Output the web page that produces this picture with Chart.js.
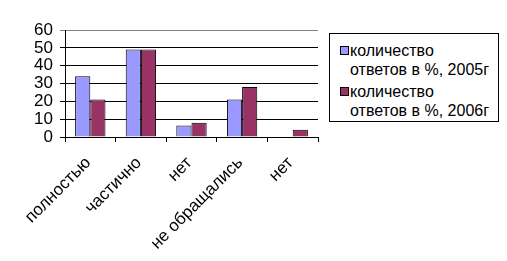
<!DOCTYPE html>
<html>
<head>
<meta charset="utf-8">
<script src="https://cdn.jsdelivr.net/npm/chart.js@4"></script>
<style>
  body { margin: 0; background: #fff; }
  #wrap { position: relative; width: 507px; height: 261px; }
  #legend {
    position: absolute; left: 329px; top: 33px; width: 170px; height: 89px;
    border: 1px solid #000; background: #fff;
    font: 16px "Liberation Sans", Arial, sans-serif; color: #000;
    box-sizing: border-box;
  }
  .item { position: absolute; left: 20px; line-height: 19px; white-space: nowrap; }
  .box { position: absolute; left: -10px; top: 5px; width: 7px; height: 7px; border: 1px solid #000; }
</style>
</head>
<body>
<div id="wrap">
  <canvas id="chart" width="507" height="261"></canvas>
  <div id="legend"></div>
</div>
<script>
const categories = ['полностью', 'частично', 'нет', 'не обращались', 'нет']
const values2005 = [34, 49, 6.5, 21, 0]
const values2006 = [21, 49, 8, 28, 4]
const seriesNames = ['количество\nответов в %, 2005г', 'количество\nответов в %, 2006г']
const colors = ['#9999ff', '#993366']

Chart.defaults.font.family = '"Liberation Sans", Arial, sans-serif'
Chart.defaults.color = '#000'

new Chart(document.getElementById('chart'), {
  type: 'bar',
  data: {
    labels: categories,
    datasets: [{
      label: seriesNames[0],
      data: values2005,
      backgroundColor: colors[0],
      borderColor: '#000',
      borderWidth: 1,
      categoryPercentage: 0.6,
      barPercentage: 1.0
    }, {
      label: seriesNames[1],
      data: values2006,
      backgroundColor: colors[1],
      borderColor: '#000',
      borderWidth: 1,
      categoryPercentage: 0.6,
      barPercentage: 1.0
    }]
  },
  options: {
    responsive: false,
    animation: false,
    layout: { padding: { top: 30, right: 189, left: 0, bottom: 0 } },
    plugins: { legend: { display: false }, tooltip: { enabled: false } },
    scales: {
      x: {
        afterFit: (s) => { s.height = 124 },
        border: { color: '#000' },
        grid: { offset: true, drawOnChartArea: false, tickLength: 5, color: '#000' },
        ticks: { minRotation: 45, maxRotation: 45, autoSkip: false, font: { size: 17 }, padding: 11, labelOffset: -2 }
      },
      y: {
        min: 0,
        max: 60,
        afterFit: (s) => { s.width = 65 },
        border: { color: '#000' },
        grid: {
          tickLength: 5,
          color: (ctx) => ctx.tick && ctx.tick.value === 60 ? '#808080' : '#000'
        },
        ticks: { stepSize: 10, autoSkip: false, font: { size: 17 }, padding: 7 }
      }
    }
  }
})

// legend with two-line labels
const legend = document.getElementById('legend')
seriesNames.forEach((name, i) => {
  const item = document.createElement('div')
  item.className = 'item'
  item.style.top = (7 + i * 41) + 'px'
  const box = document.createElement('span')
  box.className = 'box'
  box.style.background = colors[i]
  item.appendChild(box)
  name.split('\n').forEach(line => {
    const d = document.createElement('div')
    d.textContent = line
    item.appendChild(d)
  })
  legend.appendChild(item)
})
</script>
</body>
</html>
